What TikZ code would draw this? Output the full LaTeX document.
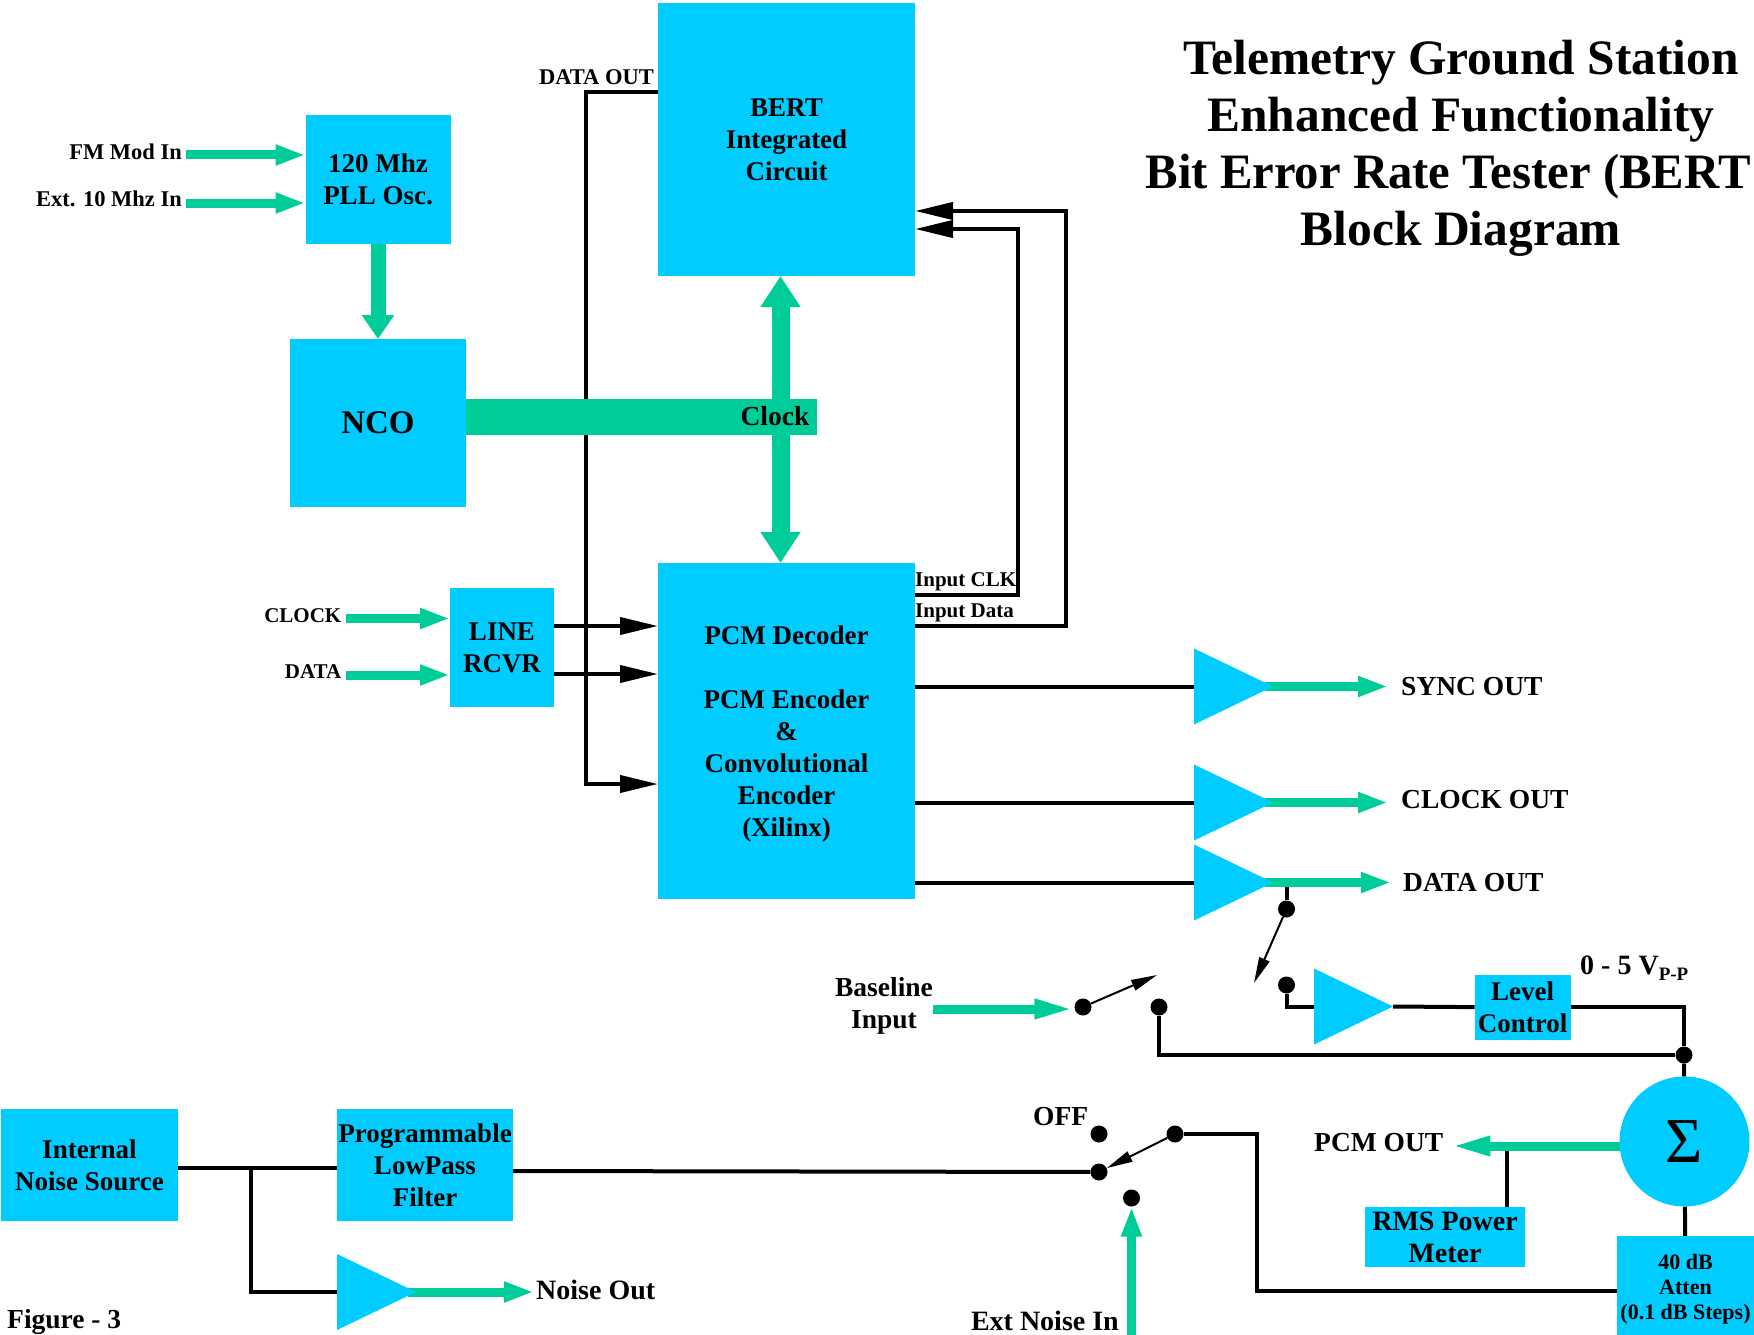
\documentclass[tikz,border=0pt]{standalone}
\usepackage{fontspec}
\setmainfont{Liberation Serif}
\usepackage{xcolor}
\usetikzlibrary{arrows.meta,positioning,shapes.geometric,backgrounds}
\definecolor{boxblue}{HTML}{00CCFF}
\definecolor{flowgreen}{HTML}{00CC99}

\begin{document}
\begin{tikzpicture}[
        x=1pt, y=-1pt,
        block/.style={rectangle, fill=boxblue, inner sep=0pt, outer sep=0pt, align=center, font=\bfseries\fontsize{27}{32}\selectfont},
        amp/.style={isosceles triangle, isosceles triangle stretches, shape border rotate=0, fill=boxblue, inner sep=0pt, outer sep=0pt, minimum width=76pt, minimum height=79pt, anchor=lower side},
        dot/.style={circle, fill=black, inner sep=0pt, minimum size=17pt},
        lab/.style={inner sep=0pt, align=center, font=\bfseries\fontsize{27.5}{32}\selectfont},
        smalllab/.style={inner sep=0pt, font=\bfseries\fontsize{21}{25}\selectfont},
        inlab/.style={smalllab, font=\bfseries\fontsize{22.5}{25}\selectfont},
        wire/.style={draw=black, line width=4pt},
        wirearrow/.style={wire, -{Triangle[length=38pt,width=17pt]}},
        swarrow/.style={draw=black, line width=2pt, -{Triangle[length=26pt,width=11pt]}},
        flow/.style={draw=flowgreen, line width=9pt, -{Triangle[length=30pt,width=19pt]}},
        flowlong/.style={flow, -{Triangle[length=40pt,width=18pt]}},
        midflow/.style={draw=flowgreen, line width=15pt, -{Triangle[length=24pt,width=31pt]}},
        busflow/.style={draw=flowgreen, line width=18pt, {Triangle[length=31pt,width=38pt]}-{Triangle[length=31pt,width=38pt]}}
    ]
        \useasboundingbox (0,0) rectangle (1754,1335);

        % Titulo
        \node[inner sep=0pt, align=center, font=\bfseries\fontsize{49.5}{57}\selectfont] (title) at (1461,148)
            {Telemetry Ground Station\\Enhanced Functionality\\\hspace*{-26pt}\scalebox{0.985}[1]{Bit Error Rate Tester (BERT}\\Block Diagram};

        % Blocos principais
        \node[block, minimum width=257pt, minimum height=273pt] (bert) at (786.5,139.5) {BERT\\Integrated\\Circuit};
        \node[block, minimum width=257pt, minimum height=336pt, below=287pt of bert] (pcm)
            {\rule{0pt}{24pt}PCM Decoder\\[32pt]PCM Encoder\\\&\\Convolutional\\Encoder\\(Xilinx)};
        \node[block, minimum width=176pt, minimum height=168pt, font=\bfseries\fontsize{33}{38}\selectfont] (nco) at (378,423) {NCO};
        \node[block, minimum width=145pt, minimum height=129pt, above=95pt of nco] (pll) {120 Mhz\\PLL Osc.};
        \node[block, minimum width=104pt, minimum height=119pt] (rcvr) at (502,647.5) {LINE\\RCVR};

        % Barra de clock
        \node[fill=flowgreen, inner sep=0pt, outer sep=0pt, minimum width=351pt, minimum height=36pt] (clockbar) at (641.5,417) {};
        \node[lab] (clocklab) at (775,416) {Clock};

        % Entradas da esquerda
        \node[inlab, anchor=east] (fmlab) at (182,152) {FM Mod In};
        \node[inlab, anchor=east] (extlab) at (182,199) {Ext. 10 Mhz In};
        \node[smalllab, anchor=east] (clklab) at (341.5,616) {CLOCK};
        \node[smalllab, anchor=east] (datalab) at (341.5,672) {DATA};
        \node[inlab, anchor=east] (bertout) at (654,77) {DATA OUT};
        \node[smalllab, anchor=west] (inclklab) at (915,582) {Input CLK};
        \node[smalllab, anchor=west] (indatalab) at (915,613) {Input Data};

        % Amplificadores de saida
        \node[amp] (ampsync) at (1194,686.5) {};
        \node[amp] (ampclock) at (1194,802.5) {};
        \node[amp] (ampdata) at (1194,882.5) {};
        \node[lab, anchor=west] (synclab) at (1401,687) {SYNC OUT};
        \node[lab, anchor=west] (clocklabout) at (1401,800) {CLOCK OUT};
        \node[lab, anchor=west] (datalabout) at (1403,883) {DATA OUT};

        % Chaves
        \node[dot] (swa) at (1286.5,909) {};
        \node[dot] (swb) at (1286.5,985) {};
        \node[dot] (swc) at (1083,1007) {};
        \node[dot] (swd) at (1159,1007) {};
        \node[dot] (swoff) at (1099,1134) {};
        \node[dot] (swcom) at (1099,1172) {};
        \node[dot] (swnoise) at (1175,1134) {};
        \node[dot] (swext) at (1131.5,1198) {};
        \coordinate (swatip) at (1254,983);
        \coordinate (swctip) at (1157,975);

        % Canal de ruido e soma
        \node[amp] (amplevel) at (1314,1006.5) {};
        \node[block, minimum width=96pt, minimum height=65pt] (level) at (1522.5,1007.5) {Level\\Control};
        \node[dot] (junction) at (1684,1055) {};
        \node[block, circle, minimum size=130pt, font=\fontsize{64}{64}\selectfont] (sum) at (1684.5,1141.5) {Σ};
        \node[block, minimum width=137pt, minimum height=106pt, font=\bfseries\fontsize{22}{25}\selectfont] (atten) at (1685.5,1289) {40 dB\\Atten\\(0.1 dB Steps)};
        \node[block, minimum width=160pt, minimum height=60pt, font=\bfseries\fontsize{28}{32}\selectfont] (rms) at (1445,1237) {RMS Power\\Meter};
        \node[block, minimum width=177pt, minimum height=112pt] (noise) at (89.5,1165) {Internal\\Noise Source};
        \node[block, minimum width=176pt, minimum height=112pt, right=159pt of noise] (filter) {Programmable\\LowPass\\Filter};
        \node[amp] (ampnoise) at (337,1292) {};

        % Textos restantes
        \node[lab, anchor=west, font=\bfseries\fontsize{28}{32}\selectfont] (noiselab) at (536,1290) {Noise Out};
        \node[lab] (baselab) at (884,1006) {Baseline\\Input};
        \node[lab, anchor=west] (offlab) at (1033,1117) {OFF};
        \node[lab, anchor=west] (pcmlab) at (1314,1143) {PCM OUT};
        \node[lab, anchor=east, font=\bfseries\fontsize{28}{32}\selectfont] (extnoiselab) at (1119,1321) {Ext Noise In};
        \node[lab, anchor=west, font=\bfseries\fontsize{28}{32}\selectfont] (vpplab) at (1580,968) {0 - 5 V\raisebox{-6pt}{\fontsize{19}{19}\selectfont P-P}};
        \node[lab, anchor=west] (figlab) at (7,1322) {Figure - 3};

        % Pontos de passagem
        \coordinate (fmstart) at (186,155);
        \coordinate (extstart) at (186,203);
        \coordinate (clkstart) at (346,618.5);
        \coordinate (datastart) at (346,675);
        \coordinate (busx) at (780.5,417);
        \coordinate (dataturn) at (585.5,92);
        \coordinate (datain) at (658,784);
        \coordinate (clkturn) at (1018,229);
        \coordinate (clkout) at (915,595);
        \coordinate (dataoutturn) at (1066,211);
        \coordinate (dataout) at (915,626);
        \coordinate (noisetee) at (251,1168);
        \coordinate (basestart) at (932.5,1009);
        \coordinate (extnoisestart) at (1131.5,1335);
        \coordinate (rmstee) at (1507,1146);

        \begin{scope}[on background layer]
            % Conexoes pretas
            \draw[wirearrow] (bert.west |- dataturn) -- (dataturn) |- (datain);
            \draw[wirearrow] (rcvr.east |- 0,626) -- (pcm.west |- 0,626);
            \draw[wirearrow] (rcvr.east |- 0,674) -- (pcm.west |- 0,674);
            \draw[wirearrow] (clkout) -| (clkturn) -- (bert.east |- clkturn);
            \draw[wirearrow] (dataout) -| (dataoutturn) -- (bert.east |- dataoutturn);
            \draw[wire] (pcm.east |- ampsync.lower side) -- (ampsync.lower side);
            \draw[wire] (pcm.east |- ampclock.lower side) -- (ampclock.lower side);
            \draw[wire] (pcm.east |- ampdata.lower side) -- (ampdata.lower side);
            \draw[wire] (swa) -- (swa |- ampdata.apex);
            \draw[wire] (swb) |- (amplevel.lower side);
            \draw[wire] (amplevel.apex) -- (level);
            \draw[wire] (level.east |- amplevel.apex) -| (junction);
            \draw[wire] (swd) |- (junction);
            \draw[wire] (junction) -- (sum);
            \draw[wire] (sum) -- (atten);
            \draw[wire] (swnoise) -| (1257,1291) -- (atten.west |- 0,1291);
            \draw[wire] (filter.east |- 0,1171) -- (swcom);
            \draw[wire] (noise.east |- noisetee) -- (filter.west |- noisetee);
            \draw[wire] (noisetee) |- (ampnoise.lower side);
            \draw[wire] (rms.north -| rmstee) -- (rmstee);

            % Chaves
            \draw[swarrow] (swa) -- (swatip);
            \draw[swarrow] (swc) -- (swctip);
            \draw[swarrow] (swnoise) -- (swcom);

            % Setas verdes
            \draw[flow] (fmstart) -- (fmstart -| pll.west);
            \draw[flow] (extstart) -- (extstart -| pll.west);
            \draw[midflow] (pll) -- (nco);
            \draw[busflow] (busx |- bert.south) -- (busx |- pcm.north);
            \draw[flow] (clkstart) -- (clkstart -| rcvr.west);
            \draw[flow] (datastart) -- (datastart -| rcvr.west);
            \draw[flow] ([xshift=-8pt]ampsync.apex) -- ([xshift=-13pt]ampsync.apex -| synclab.west);
            \draw[flow] ([xshift=-8pt]ampclock.apex) -- ([xshift=-13pt]ampclock.apex -| clocklabout.west);
            \draw[flow] ([xshift=-8pt]ampdata.apex) -- ([xshift=-12pt]ampdata.apex -| datalabout.west);
            \draw[flow] ([xshift=-8pt]ampnoise.apex) -- ([xshift=-2pt]ampnoise.apex -| noiselab.west);
            \draw[flowlong] (basestart) -- (basestart -| swc.west);
            \draw[flowlong] (sum.west |- rmstee) -- ([xshift=7pt]pcmlab.east |- rmstee);
            \draw[flow] (extnoisestart) -- (swext.south);
        \end{scope}
    \end{tikzpicture}
\end{document}
